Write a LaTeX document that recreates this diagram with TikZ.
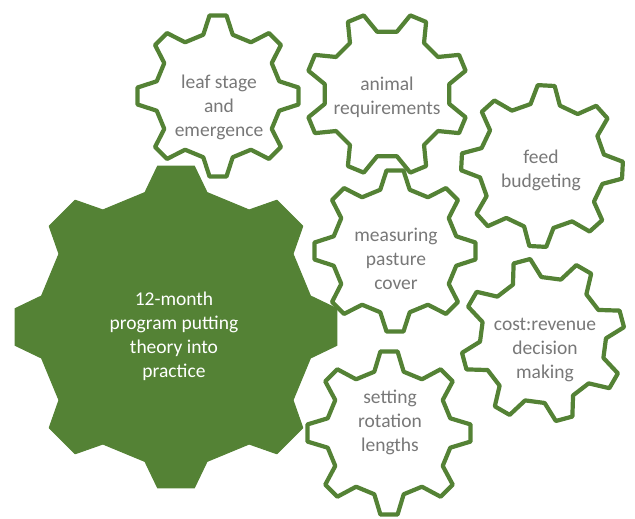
\documentclass[tikz,border=0pt]{standalone}
\usepackage{fontspec}
\setmainfont{Carlito}
\definecolor{geargreen}{RGB}{84,130,53}
\definecolor{textgray}{RGB}{120,120,120}
\tikzset{
  biggear/.style={fill=geargreen, draw=geargreen, line width=1pt, line join=round},
  smallgear/.style={fill=white, draw=geargreen, line width=4.2pt, line join=round},
  geartext/.style={align=center, text=textgray, font=\fontsize{19.5}{24}\selectfont, inner sep=0pt},
  bigtext/.style={align=center, text=white, font=\fontsize{19.5}{24}\selectfont, inner sep=0pt}
}
% #1 style, #2 cx, #3 cy, #4 Ro, #5 Ri, #6 rotation, #7 tip half angle, #8 base half angle
\newcommand\mygear[8]{%
  \begin{scope}[shift={(#2,#3)}]
    \draw[#1] (#6-#8:#5)
      \foreach \k in {0,...,7}{
        -- ({#6+\k*45-#7}:#4) -- ({#6+\k*45+#7}:#4) -- ({#6+\k*45+#8}:#5) -- ({#6+\k*45+45-#8}:#5)
      } -- cycle;
  \end{scope}}
\begin{document}
\begin{tikzpicture}[x=1pt,y=-1pt]
\useasboundingbox (0,0) rectangle (635,519);
\mygear{biggear}{176}{327}{162}{138}{0}{6.5}{13}
\mygear{smallgear}{218}{96}{81}{63}{0}{6}{13.5}
\mygear{smallgear}{387}{94}{82}{63}{22.5}{6}{13.5}
\mygear{smallgear}{542}{166}{81}{63}{3}{6}{13.5}
\mygear{smallgear}{395}{251}{81}{63}{0}{6}{13.5}
\mygear{smallgear}{543}{340}{82}{63}{-15}{6}{13.5}
\mygear{smallgear}{389}{433}{82}{63}{0}{6}{13.5}
\node[bigtext] (big) at (174,336) {12-month\\program putting\\theory into\\practice};
\node[geartext] (leaf) at (219,107) {leaf stage\\and\\emergence};
\node[geartext] (animal) at (387,97) {animal\\requirements};
\node[geartext] (feed) at (541,170) {feed\\budgeting};
\node[geartext] (measure) at (396,259) {measuring\\pasture\\cover};
\node[geartext] (cost) at (545,350) {cost:revenue\\decision\\making};
\node[geartext] (setting) at (390,422) {setting\\rotation\\lengths};
\end{tikzpicture}
\end{document}
